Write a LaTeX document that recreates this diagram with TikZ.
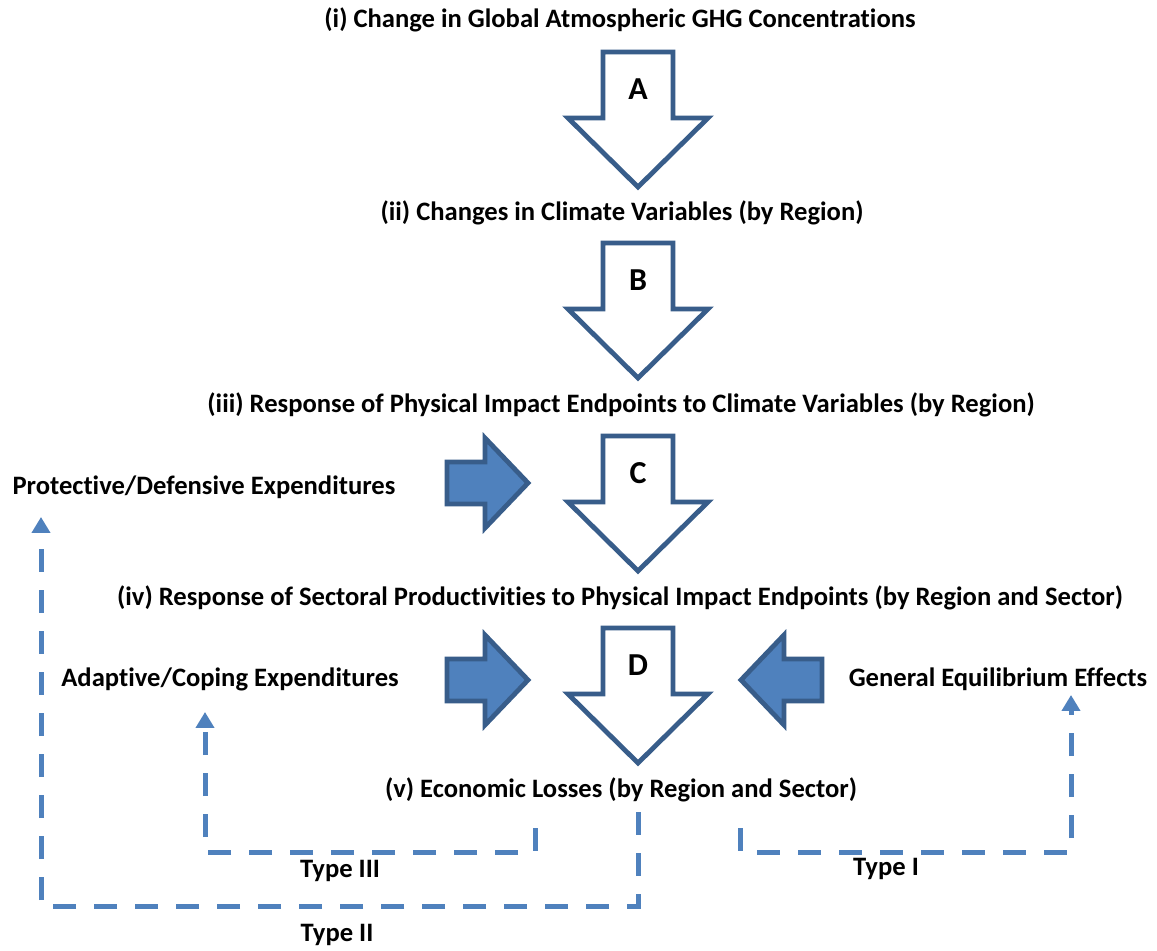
\documentclass[tikz,border=0pt]{standalone}
\usepackage{fontspec}
\setmainfont{Carlito}[Ligatures={NoCommon}]
\usetikzlibrary{arrows.meta}
\definecolor{arrowblue}{HTML}{4F81BD}
\definecolor{arrowedge}{HTML}{385D8A}

\begin{document}
\begin{tikzpicture}[x=0.5pt,y=-0.5pt,
  every node/.style={font=\bfseries\fontsize{13.3}{16}\selectfont},
  bigarrow/.style={draw=arrowedge,line width=2.4pt,fill=white,line join=miter},
  sidearrow/.style={draw=arrowedge,line width=2.4pt,fill=arrowblue,line join=miter},
  feedback/.style={draw=arrowblue,line width=2.5pt,dash pattern=on 11.5pt off 9pt,
    -{Triangle[length=8pt,width=9pt]}}]
\fill[white] (0,0) rectangle (1157,951);
\useasboundingbox (0,0) rectangle (1157,951);

% stages of the chain
\node (t1) at (620,20) {(i) Change in Global Atmospheric GHG Concentrations};
\node (t2) at (622,213) {(ii) Changes in Climate Variables (by Region)};
\node (t3) at (621,405) {(iii) Response of Physical Impact Endpoints to Climate Variables (by Region)};
\node (t4) at (620,598) {(iv) Response of Sectoral Productivities to Physical Impact Endpoints (by Region and Sector)};
\node (t5) at (621,790) {(v) Economic Losses (by Region and Sector)};

% side influences
\node (prot) at (204,487) {Protective/Defensive Expenditures};
\node (adapt) at (230,679) {Adaptive/Coping Expenditures};
\node (geneq) at (998,679) {General Equilibrium Effects};

% big down arrows
\foreach \ytop/\lab in {52/A,243/B,436/C,628/D}{
  \draw[bigarrow] (603,\ytop) -- ++(70,0) -- ++(0,66) -- ++(35,0) -- ++(-70,69)
    -- ++(-70,-69) -- ++(35,0) -- cycle;
  \node[font=\bfseries\fontsize{16}{18}\selectfont] (l\lab) at (638,{\ytop+37}) {\lab};
}

% blue block arrows
\foreach \cx/\cy/\dir in {447/483/1,447/680/1,822/680/-1}
  \draw[sidearrow,shift={(\cx,\cy)},xscale=\dir] (0,-21) -- (38,-21) -- (38,-45)
    -- (81,0) -- (38,45) -- (38,21) -- (0,21) -- cycle;

% feedback loops
\coordinate (s3) at (535,828);
\coordinate (e3) at (205,712);
\draw[feedback] (s3) -- ++(0,24) -| (e3);
\node (type3) at (340,871) {Type III};

\coordinate (s2) at (638,812);
\coordinate (e2) at (41,517);
\draw[feedback] (s2) -- ++(0,94) -| (e2);
\node (type2) at (337,935) {Type II};

\coordinate (s1) at (740,828);
\coordinate (e1) at (1071,695);
\draw[feedback] (s1) -- ++(0,24) -| (e1);
\node (type1) at (886,869) {Type I};
\end{tikzpicture}
\end{document}
